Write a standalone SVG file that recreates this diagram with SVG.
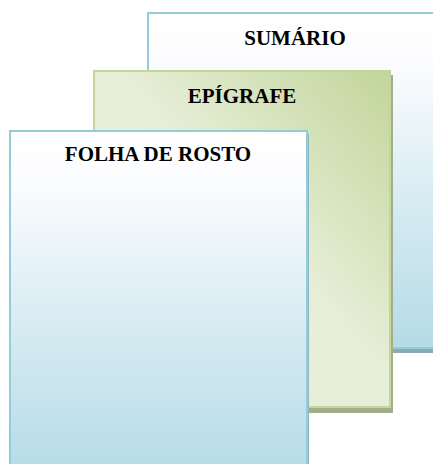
<svg xmlns="http://www.w3.org/2000/svg" width="433" height="464" viewBox="0 0 433 464">
<style>
.t{font-family:"Liberation Serif","Times New Roman",serif;font-weight:bold;font-size:21px;fill:#000;text-anchor:middle}
.blue{stroke:#92cddc;stroke-width:2}
.green{stroke:#c3d69b;stroke-width:2}
</style>
<defs>
<linearGradient id="gb" x1="0" y1="0" x2="0" y2="1">
<stop offset="0" stop-color="#ffffff"/>
<stop offset="0.15" stop-color="#fbfcfe"/>
<stop offset="0.6" stop-color="#d4eaf1"/>
<stop offset="1" stop-color="#b5dbe6"/>
</linearGradient>
<linearGradient id="gg" x1="0" y1="1" x2="1" y2="0">
<stop offset="0" stop-color="#ebf1de"/>
<stop offset="0.55" stop-color="#e6eed7"/>
<stop offset="1" stop-color="#c2d59a"/>
</linearGradient>
</defs>
<g id="sumario">
<rect x="150" y="17" width="300" height="336" fill="#8fa9b0"/>
<rect x="148" y="13" width="300" height="335" fill="url(#gb)" class="blue"/>
<text class="t" x="295" y="45">SUMÁRIO</text>
</g>
<g id="epigrafe">
<rect x="97" y="75" width="296" height="338" fill="#a5ae8a"/>
<rect x="94" y="71" width="296" height="336" fill="url(#gg)" class="green"/>
<text class="t" x="242" y="103">EPÍGRAFE</text>
</g>
<g id="folha">
<rect x="12" y="134" width="297" height="340" fill="#8fb5c0"/>
<rect x="10" y="131" width="297" height="345" fill="url(#gb)" class="blue"/>
<text class="t" x="158" y="161">FOLHA DE ROSTO</text>
</g>
<g id="connectors"/>
</svg>
